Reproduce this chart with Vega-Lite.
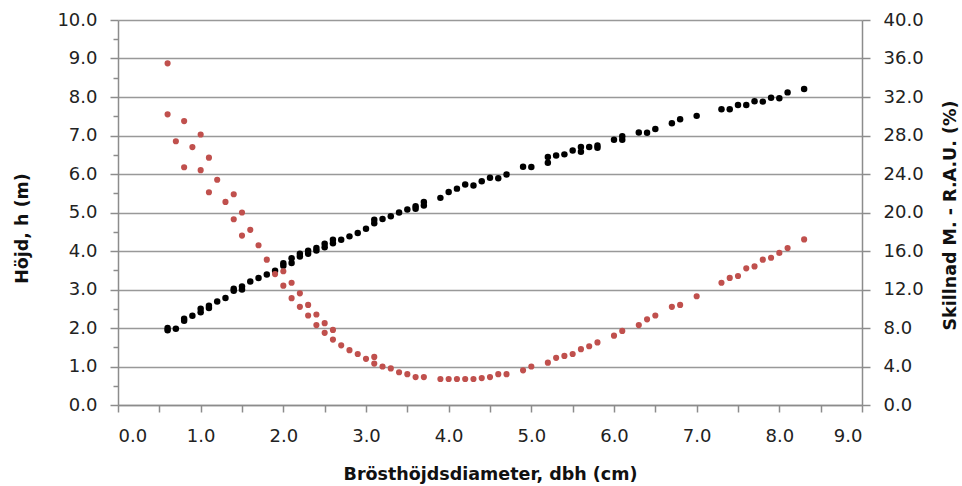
{
  "$schema": "https://vega.github.io/schema/vega-lite/v6.json",
  "autosize": "none",
  "width": 744,
  "height": 385,
  "padding": {"left": 118, "top": 20, "right": 100, "bottom": 81},
  "background": "white",
  "config": {
    "view": {"stroke": null},
    "axis": {
      "labelFont": "DejaVu Sans",
      "labelFontSize": 18,
      "labelColor": "#222222",
      "titleFont": "DejaVu Sans",
      "titleFontSize": 17.5,
      "titleFontWeight": "bold",
      "titleColor": "#111111",
      "domainColor": "#8c8c8c",
      "domainWidth": 1.5,
      "tickColor": "#8c8c8c",
      "tickWidth": 1.5,
      "gridColor": "#999999",
      "gridWidth": 1.5
    }
  },
  "datasets": {
    "hojd": [
      {"dbh": 0.6, "h": 1.94}, {"dbh": 0.6, "h": 2.0}, {"dbh": 0.7, "h": 1.98},
      {"dbh": 0.8, "h": 2.19}, {"dbh": 0.8, "h": 2.24}, {"dbh": 0.9, "h": 2.32},
      {"dbh": 1.0, "h": 2.41}, {"dbh": 1.0, "h": 2.5}, {"dbh": 1.1, "h": 2.52},
      {"dbh": 1.1, "h": 2.58}, {"dbh": 1.2, "h": 2.69}, {"dbh": 1.3, "h": 2.78},
      {"dbh": 1.4, "h": 2.97}, {"dbh": 1.4, "h": 3.02}, {"dbh": 1.5, "h": 3.0},
      {"dbh": 1.5, "h": 3.08}, {"dbh": 1.6, "h": 3.21}, {"dbh": 1.7, "h": 3.3},
      {"dbh": 1.8, "h": 3.39}, {"dbh": 1.9, "h": 3.49}, {"dbh": 2.0, "h": 3.62},
      {"dbh": 2.0, "h": 3.68}, {"dbh": 2.1, "h": 3.69}, {"dbh": 2.1, "h": 3.81},
      {"dbh": 2.2, "h": 3.86}, {"dbh": 2.2, "h": 3.93}, {"dbh": 2.3, "h": 3.93},
      {"dbh": 2.3, "h": 4.01}, {"dbh": 2.4, "h": 4.01}, {"dbh": 2.4, "h": 4.08},
      {"dbh": 2.5, "h": 4.1}, {"dbh": 2.5, "h": 4.19}, {"dbh": 2.6, "h": 4.2},
      {"dbh": 2.6, "h": 4.29}, {"dbh": 2.7, "h": 4.29}, {"dbh": 2.8, "h": 4.38},
      {"dbh": 2.9, "h": 4.47}, {"dbh": 3.0, "h": 4.58}, {"dbh": 3.1, "h": 4.72},
      {"dbh": 3.1, "h": 4.81}, {"dbh": 3.2, "h": 4.83}, {"dbh": 3.3, "h": 4.9},
      {"dbh": 3.4, "h": 5.0}, {"dbh": 3.5, "h": 5.08}, {"dbh": 3.6, "h": 5.1},
      {"dbh": 3.6, "h": 5.16}, {"dbh": 3.7, "h": 5.18}, {"dbh": 3.7, "h": 5.27},
      {"dbh": 3.9, "h": 5.38}, {"dbh": 4.0, "h": 5.53}, {"dbh": 4.1, "h": 5.62},
      {"dbh": 4.2, "h": 5.73}, {"dbh": 4.3, "h": 5.7}, {"dbh": 4.4, "h": 5.81},
      {"dbh": 4.5, "h": 5.9}, {"dbh": 4.6, "h": 5.89}, {"dbh": 4.7, "h": 5.99},
      {"dbh": 4.9, "h": 6.19}, {"dbh": 5.0, "h": 6.18}, {"dbh": 5.2, "h": 6.29},
      {"dbh": 5.2, "h": 6.44}, {"dbh": 5.3, "h": 6.48}, {"dbh": 5.4, "h": 6.51},
      {"dbh": 5.5, "h": 6.61}, {"dbh": 5.6, "h": 6.58}, {"dbh": 5.6, "h": 6.7},
      {"dbh": 5.7, "h": 6.7}, {"dbh": 5.8, "h": 6.68}, {"dbh": 5.8, "h": 6.74},
      {"dbh": 6.0, "h": 6.89}, {"dbh": 6.1, "h": 6.89}, {"dbh": 6.1, "h": 6.98},
      {"dbh": 6.3, "h": 7.08}, {"dbh": 6.4, "h": 7.07}, {"dbh": 6.5, "h": 7.17},
      {"dbh": 6.7, "h": 7.32}, {"dbh": 6.8, "h": 7.42}, {"dbh": 7.0, "h": 7.51},
      {"dbh": 7.3, "h": 7.68}, {"dbh": 7.4, "h": 7.68}, {"dbh": 7.5, "h": 7.79},
      {"dbh": 7.6, "h": 7.79}, {"dbh": 7.7, "h": 7.89}, {"dbh": 7.8, "h": 7.88},
      {"dbh": 7.9, "h": 7.98}, {"dbh": 8.0, "h": 7.97}, {"dbh": 8.1, "h": 8.12},
      {"dbh": 8.3, "h": 8.21}
    ],
    "skillnad": [
      {"dbh": 0.6, "diff": 35.5}, {"dbh": 0.6, "diff": 30.2}, {"dbh": 0.7, "diff": 27.4},
      {"dbh": 0.8, "diff": 29.5}, {"dbh": 0.8, "diff": 24.7}, {"dbh": 0.9, "diff": 26.8},
      {"dbh": 1.0, "diff": 28.1}, {"dbh": 1.0, "diff": 24.4}, {"dbh": 1.1, "diff": 25.7},
      {"dbh": 1.1, "diff": 22.1}, {"dbh": 1.2, "diff": 23.4}, {"dbh": 1.3, "diff": 21.1},
      {"dbh": 1.4, "diff": 21.9}, {"dbh": 1.4, "diff": 19.3}, {"dbh": 1.5, "diff": 20.0},
      {"dbh": 1.5, "diff": 17.6}, {"dbh": 1.6, "diff": 18.2}, {"dbh": 1.7, "diff": 16.6},
      {"dbh": 1.8, "diff": 15.1}, {"dbh": 1.9, "diff": 13.6}, {"dbh": 2.0, "diff": 13.9},
      {"dbh": 2.0, "diff": 12.4}, {"dbh": 2.1, "diff": 12.7}, {"dbh": 2.1, "diff": 11.1},
      {"dbh": 2.2, "diff": 11.6}, {"dbh": 2.2, "diff": 10.2}, {"dbh": 2.3, "diff": 10.4},
      {"dbh": 2.3, "diff": 9.3}, {"dbh": 2.4, "diff": 9.4}, {"dbh": 2.4, "diff": 8.3},
      {"dbh": 2.5, "diff": 8.5}, {"dbh": 2.5, "diff": 7.5}, {"dbh": 2.6, "diff": 7.8},
      {"dbh": 2.6, "diff": 6.8}, {"dbh": 2.7, "diff": 6.2}, {"dbh": 2.8, "diff": 5.7},
      {"dbh": 2.9, "diff": 5.3}, {"dbh": 3.0, "diff": 4.8}, {"dbh": 3.1, "diff": 5.0},
      {"dbh": 3.1, "diff": 4.3}, {"dbh": 3.2, "diff": 4.0}, {"dbh": 3.3, "diff": 3.8},
      {"dbh": 3.4, "diff": 3.4}, {"dbh": 3.5, "diff": 3.2}, {"dbh": 3.6, "diff": 2.9},
      {"dbh": 3.7, "diff": 2.9}, {"dbh": 3.9, "diff": 2.7}, {"dbh": 4.0, "diff": 2.7},
      {"dbh": 4.1, "diff": 2.7}, {"dbh": 4.2, "diff": 2.7}, {"dbh": 4.3, "diff": 2.7},
      {"dbh": 4.4, "diff": 2.8}, {"dbh": 4.5, "diff": 2.9}, {"dbh": 4.6, "diff": 3.2},
      {"dbh": 4.7, "diff": 3.2}, {"dbh": 4.9, "diff": 3.6}, {"dbh": 5.0, "diff": 4.0},
      {"dbh": 5.2, "diff": 4.4}, {"dbh": 5.3, "diff": 4.9}, {"dbh": 5.4, "diff": 5.1},
      {"dbh": 5.5, "diff": 5.3}, {"dbh": 5.6, "diff": 5.8}, {"dbh": 5.7, "diff": 6.1},
      {"dbh": 5.8, "diff": 6.5}, {"dbh": 6.0, "diff": 7.2}, {"dbh": 6.1, "diff": 7.7},
      {"dbh": 6.3, "diff": 8.3}, {"dbh": 6.4, "diff": 8.9}, {"dbh": 6.5, "diff": 9.3},
      {"dbh": 6.7, "diff": 10.2}, {"dbh": 6.8, "diff": 10.4}, {"dbh": 7.0, "diff": 11.3},
      {"dbh": 7.3, "diff": 12.7}, {"dbh": 7.4, "diff": 13.2}, {"dbh": 7.5, "diff": 13.4},
      {"dbh": 7.6, "diff": 14.2}, {"dbh": 7.7, "diff": 14.4}, {"dbh": 7.8, "diff": 15.1},
      {"dbh": 7.9, "diff": 15.3}, {"dbh": 8.0, "diff": 15.8}, {"dbh": 8.1, "diff": 16.3},
      {"dbh": 8.3, "diff": 17.2}
    ]
  },
  "encoding": {
    "x": {
      "field": "dbh",
      "type": "quantitative",
      "scale": {"domain": [0, 9], "nice": false, "zero": false},
      "axis": {
        "title": "Brösthöjdsdiameter, dbh (cm)",
        "values": [0, 0.5, 1, 1.5, 2, 2.5, 3, 3.5, 4, 4.5, 5, 5.5, 6, 6.5, 7, 7.5, 8, 8.5, 9],
        "labelExpr": "datum.value % 1 == 0 ? format(datum.value, '.1f') : ''",
        "grid": false,
        "tickSize": 7,
        "labelPadding": 15,
        "titleBaseline": "middle",
        "titleY": 69,
        "titleX": 372
      }
    }
  },
  "layer": [
    {
      "data": {"name": "hojd"},
      "mark": {"type": "point", "shape": "circle", "filled": true, "size": 42, "color": "#000000", "opacity": 1},
      "encoding": {
        "y": {
          "field": "h",
          "type": "quantitative",
          "scale": {"domain": [0, 10], "nice": false},
          "axis": {
            "orient": "left",
            "title": "Höjd, h (m)",
            "values": [0, 0.5, 1, 1.5, 2, 2.5, 3, 3.5, 4, 4.5, 5, 5.5, 6, 6.5, 7, 7.5, 8, 8.5, 9, 9.5, 10],
            "labelExpr": "datum.value % 1 == 0 ? format(datum.value, '.1f') : ''",
            "grid": true,
            "gridOpacity": {"condition": {"test": "datum.value % 1 != 0", "value": 0}, "value": 1},
            "tickSize": {"condition": {"test": "datum.value % 1 != 0", "value": 5}, "value": 8},
            "labelPadding": 13,
            "titleAngle": -90,
            "titleBaseline": "middle",
            "titleAlign": "center",
            "titleX": -96,
            "titleY": 208
          }
        }
      }
    },
    {
      "data": {"name": "skillnad"},
      "mark": {"type": "point", "shape": "circle", "filled": true, "size": 38, "color": "#C0504D", "opacity": 1},
      "encoding": {
        "y": {
          "field": "diff",
          "type": "quantitative",
          "scale": {"domain": [0, 40], "nice": false},
          "axis": {
            "orient": "right",
            "title": "Skillnad M. - R.A.U. (%)",
            "values": [0, 4, 8, 12, 16, 20, 24, 28, 32, 36, 40],
            "format": ".1f",
            "grid": false,
            "tickSize": 8,
            "labelPadding": 13,
            "titleAngle": -90,
            "titleBaseline": "middle",
            "titleAlign": "center",
            "titleX": 88,
            "titleY": 195
          }
        }
      }
    }
  ],
  "resolve": {"scale": {"y": "independent"}}
}
